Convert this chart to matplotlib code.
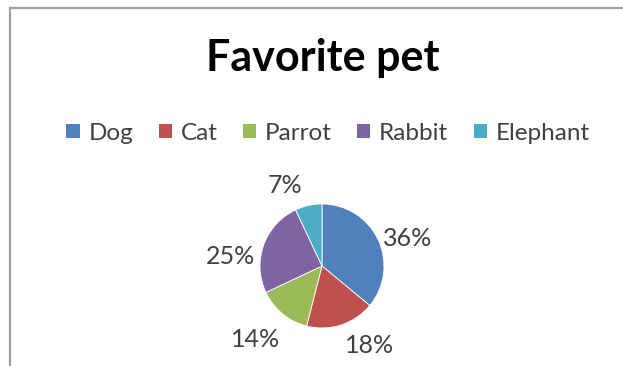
import matplotlib.pyplot as plt
from matplotlib.lines import Line2D
from matplotlib.patches import Patch

## data
pets = ['Dog', 'Cat', 'Parrot', 'Rabbit', 'Elephant']
shares = [36, 18, 14, 25, 7]
colors = ['#4F81BD', '#C0504D', '#9BBB59', '#8064A2', '#4BACC6']
pct_labels = ['36%', '18%', '14%', '25%', '7%']

plt.rcParams['font.family'] = ['Lato', 'DejaVu Sans']

W, H = 623, 366
fig = plt.figure(figsize=(W / 100, H / 100), dpi=100, facecolor='w')

# grey chart frame (left and top edges visible)
fig.add_artist(Line2D([10 / W, 10 / W], [0, 1 - 8 / H], color='#A0A0A0', lw=1.6))
fig.add_artist(Line2D([10 / W, 1], [1 - 8 / H, 1 - 8 / H], color='#A0A0A0', lw=1.6))

# pie: centre (322, 266) px, radius ~62 px
r_px = 62
cx, cy = 322, H - 266
side = 2.5 * r_px
ax = fig.add_axes([(cx - side / 2) / W, (cy - side / 2) / H, side / W, side / H])
wedges, texts = ax.pie(shares, colors=colors, startangle=90, counterclock=False,
                       labels=pct_labels, labeldistance=1.45,
                       wedgeprops=dict(linewidth=0.6, edgecolor='white'),
                       textprops=dict(fontsize=18, color='#404040'))

# label placement like Excel's outside labels (units of pie radius)
label_pos = [(1.38, 0.44), (0.77, -1.29), (-1.08, -1.19), (-1.48, 0.16), (-0.6, 1.3)]
for t, (x, y) in zip(texts, label_pos):
    t.set_position((x, y))
    t.set_ha('center')
    t.set_va('center')
ax.set_xlim(-1.25, 1.25)
ax.set_ylim(-1.25, 1.25)
ax.set_aspect('equal')

fig.text(323 / W, 1 - 71 / H, 'Favorite pet', ha='center', va='baseline',
         fontsize=31, fontweight='bold', color='black')

handles = [Patch(facecolor=c, edgecolor='none') for c in colors]
fig.legend(handles, pets, loc='center', bbox_to_anchor=(328 / W, 1 - 133 / H),
           ncol=5, frameon=False, fontsize=17.5, handlelength=0.55, handleheight=0.55,
           handletextpad=0.35, columnspacing=1.05, labelcolor='#404040')

plt.savefig('out.png', dpi=100)
